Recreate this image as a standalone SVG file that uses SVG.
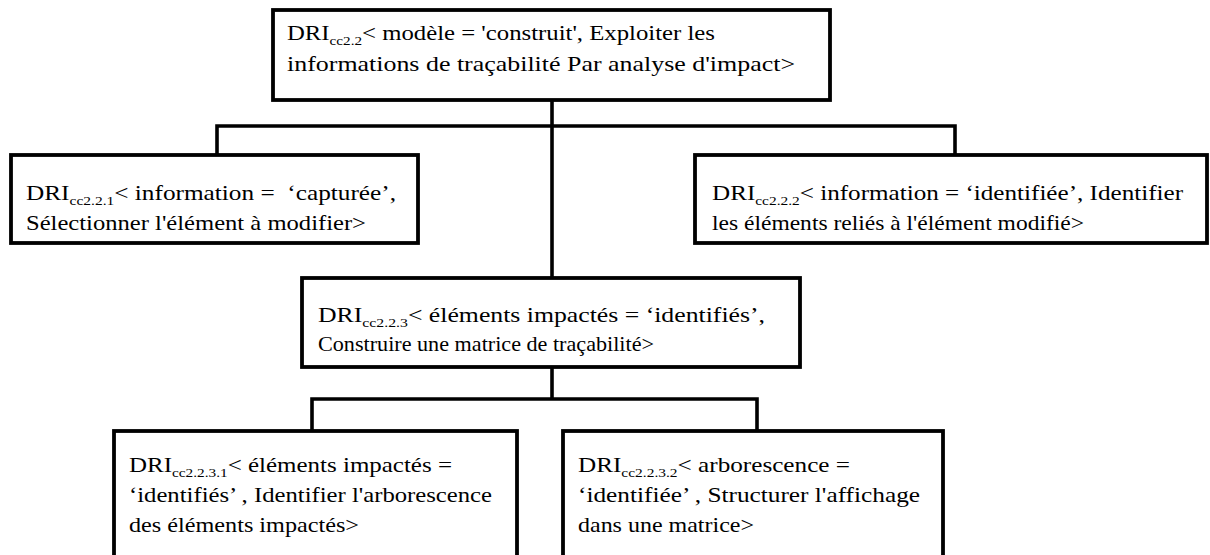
<svg xmlns="http://www.w3.org/2000/svg" width="1210" height="555" viewBox="0 0 1210 555">
<style>
.box{fill:#fff;stroke:#000;stroke-width:3.8}
.con{fill:none;stroke:#000;stroke-width:3.6}
.t{font-family:'Liberation Serif','Times New Roman',serif;font-size:22px;fill:#000}
.sub{font-size:13.5px}
</style>
<rect width="1210" height="555" fill="#fff"/>
<g id="connectors">
<path class="con" d="M552,100 V278"/>
<path class="con" d="M217,155 V126 H955 V155"/>
<path class="con" d="M552,367 V399"/>
<path class="con" d="M312,431 V399 H757 V431"/>
</g>
<g id="nA" class="t">
<rect class="box" x="273" y="10" width="557" height="90"/>
<text xml:space="preserve" x="287" y="40" textLength="428" lengthAdjust="spacingAndGlyphs">DRI<tspan class="sub" dy="5">cc2.2</tspan><tspan dy="-5">&lt; modèle = 'construit', Exploiter les</tspan></text>
<text x="287" y="71" textLength="508" lengthAdjust="spacingAndGlyphs">informations de traçabilité Par analyse d'impact&gt;</text>
</g>
<g id="nB" class="t">
<rect class="box" x="11" y="155" width="407" height="88"/>
<text xml:space="preserve" x="26" y="200" textLength="370" lengthAdjust="spacingAndGlyphs">DRI<tspan class="sub" dy="5">cc2.2.1</tspan><tspan dy="-5">&lt; information =  ‘capturée’,</tspan></text>
<text x="26" y="230" textLength="340" lengthAdjust="spacingAndGlyphs">Sélectionner l'élément à modifier&gt;</text>
</g>
<g id="nC" class="t">
<rect class="box" x="695" y="155" width="512" height="88"/>
<text xml:space="preserve" x="712" y="200" textLength="471" lengthAdjust="spacingAndGlyphs">DRI<tspan class="sub" dy="5">cc2.2.2</tspan><tspan dy="-5">&lt; information = ‘identifiée’, Identifier</tspan></text>
<text x="712" y="230" textLength="372" lengthAdjust="spacingAndGlyphs">les éléments reliés à l'élément modifié&gt;</text>
</g>
<g id="nD" class="t">
<rect class="box" x="302" y="278" width="498" height="89"/>
<text xml:space="preserve" x="318" y="322" textLength="447" lengthAdjust="spacingAndGlyphs">DRI<tspan class="sub" dy="5">cc2.2.3</tspan><tspan dy="-5">&lt; éléments impactés = ‘identifiés’,</tspan></text>
<text x="318" y="351" textLength="336" lengthAdjust="spacingAndGlyphs">Construire une matrice de traçabilité&gt;</text>
</g>
<g id="nE" class="t">
<rect class="box" x="114" y="431" width="403" height="140"/>
<text xml:space="preserve" x="129" y="472" textLength="323" lengthAdjust="spacingAndGlyphs">DRI<tspan class="sub" dy="5">cc2.2.3.1</tspan><tspan dy="-5">&lt; éléments impactés =</tspan></text>
<text x="129" y="502" textLength="363" lengthAdjust="spacingAndGlyphs">‘identifiés’ , Identifier l'arborescence</text>
<text x="129" y="532" textLength="230" lengthAdjust="spacingAndGlyphs">des éléments impactés&gt;</text>
</g>
<g id="nF" class="t">
<rect class="box" x="563" y="431" width="380" height="140"/>
<text xml:space="preserve" x="578" y="472" textLength="272" lengthAdjust="spacingAndGlyphs">DRI<tspan class="sub" dy="5">cc2.2.3.2</tspan><tspan dy="-5">&lt; arborescence =</tspan></text>
<text x="578" y="502" textLength="342" lengthAdjust="spacingAndGlyphs">‘identifiée’ , Structurer l'affichage</text>
<text x="578" y="532" textLength="176" lengthAdjust="spacingAndGlyphs">dans une matrice&gt;</text>
</g>
</svg>
